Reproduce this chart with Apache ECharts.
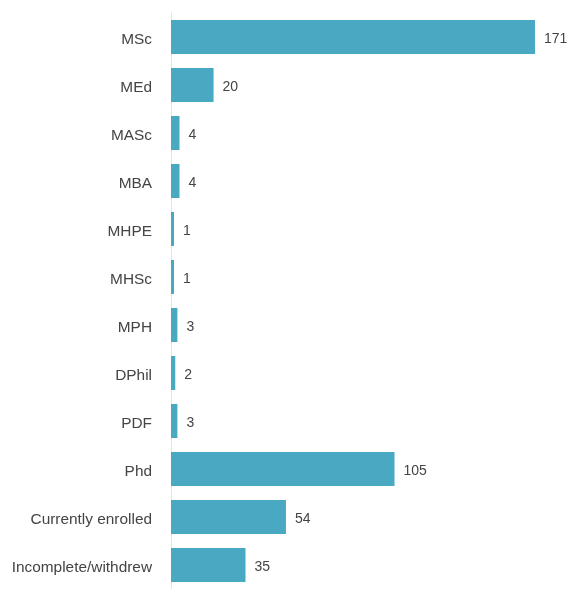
<!DOCTYPE html>
<html>
<head>
<meta charset="utf-8">
<script src="https://cdn.jsdelivr.net/npm/echarts@6/dist/echarts.min.js"></script>
<style>
  html, body { margin: 0; padding: 0; background: #fff; }
  #chart { width: 570px; height: 589px; }
</style>
</head>
<body>
<div id="chart"></div>
<script>
// categories top to bottom
const categories = ['MSc', 'MEd', 'MASc', 'MBA', 'MHPE', 'MHSc', 'MPH', 'DPhil', 'PDF', 'Phd', 'Currently enrolled', 'Incomplete/withdrew'];
const counts = [171, 20, 4, 4, 1, 1, 3, 2, 3, 105, 54, 35];

const chart = echarts.init(document.getElementById('chart'), null, { renderer: 'canvas' });

const option = {
  animation: false,
  grid: { left: 171, right: 35, top: 13, height: 577 },
  xAxis: {
    type: 'value',
    min: 0,
    max: 171,
    show: false
  },
  yAxis: {
    type: 'category',
    inverse: true,
    data: categories,
    axisLine: { show: true, lineStyle: { color: '#e4e4e4', width: 1 } },
    axisTick: { show: false },
    axisLabel: {
      margin: 19,
      fontSize: 15.4,
      verticalAlign: 'top',
      lineHeight: 6,
      fontFamily: 'Liberation Sans, Arial, sans-serif',
      color: '#444'
    }
  },
  series: [{
    type: 'bar',
    data: counts,
    barWidth: 34,
    barMinHeight: 3,
    itemStyle: { color: '#4aa9c2' },
    label: {
      show: true,
      position: 'right',
      distance: 9,
      offset: [0, 2],
      fontSize: 14,
      fontFamily: 'Liberation Sans, Arial, sans-serif',
      color: '#444'
    }
  }]
};

chart.setOption(option);
</script>
</body>
</html>
